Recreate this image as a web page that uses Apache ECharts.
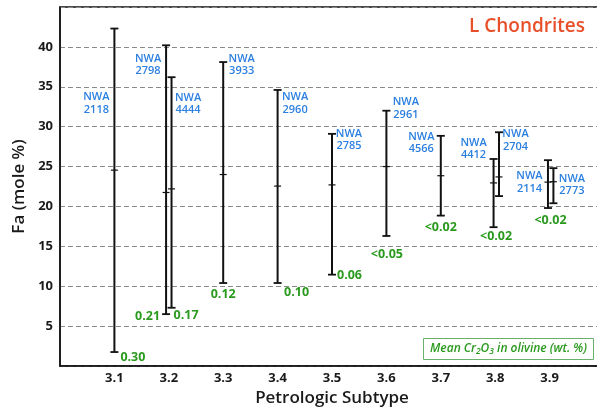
<!DOCTYPE html>
<html>
<head>
<meta charset="utf-8">
<script src="https://cdn.jsdelivr.net/npm/echarts@6/dist/echarts.min.js"></script>
<style>
html,body{margin:0;padding:0;background:#fff;}
#chart{width:597px;height:413px;}
</style>
</head>
<body>
<div id="chart"></div>
<script>
// ---- data ----
const subtypes = [3.1, 3.195, 3.205, 3.3, 3.4, 3.5, 3.6, 3.7, 3.797, 3.807, 3.897, 3.907];
const faLow  = [1.75, 6.5, 7.3, 10.4, 10.4, 11.45, 16.3, 18.85, 17.4, 21.3, 19.8, 20.4];
const faMean = [24.55, 21.75, 22.2, 24.0, 22.55, 22.7, 25.0, 23.85, 22.95, 23.7, 23.05, 23.1];
const faHigh = [42.3, 40.2, 36.2, 38.1, 34.6, 29.1, 32.0, 28.85, 25.95, 29.3, 25.8, 24.8];
const meteorites = ['2118', '2798', '4444', '3933', '2960', '2785', '2961', '4566', '4412', '2704', '2114', '2773'];
const cr2o3 = ['0.30', '0.21', '0.17', '0.12', '0.10', '0.06', '<0.05', '<0.02', '<0.02', '', '<0.02', ''];
const yTicks = [5, 10, 15, 20, 25, 30, 35, 40];
const xTicks = ['3.1', '3.2', '3.3', '3.4', '3.5', '3.6', '3.7', '3.8', '3.9'];

// ---- label layout (pixel offsets, style only) ----
const nameOffset = [[-18, 75], [-18, 19.5], [16.5, 26.5], [18.5, 3], [17.5, 13.5], [17, 6], [19.5, -2.5], [-19.5, 7], [-20, -10], [16.5, 8], [-18.5, 22], [18.5, 16.5]];
const crOffset = [[18.5, 5], [-18.5, 2.7], [14.5, 7.3], [0, 11.7], [19, 9.7], [17.5, 1], [0.5, 18.6], [0, 11.4], [2.5, 9.3], [0, 0], [2.5, 12.3], [0, 0]];

const FONT = '"Open Sans", "Noto Sans", sans-serif';
const BLUE = '#2b7fe0';
const GREEN = '#2a9a1e';

const data = subtypes.map((x, i) => [x, faLow[i], faMean[i], faHigh[i], i]);

const chart = echarts.init(document.getElementById('chart'), null, {renderer: 'canvas'});
chart.setOption({
  animation: false,
  backgroundColor: '#fff',
  grid: {left: 60, top: 7, right: -7, bottom: 47, show: true, borderColor: '#111', borderWidth: 1.5, backgroundColor: 'transparent', containLabel: false, outerBoundsMode: 'none'},
  xAxis: {
    type: 'value', min: 3.0, max: 4.0, interval: 0.1,
    name: 'Petrologic Subtype', nameLocation: 'middle', nameGap: 24,
    nameTextStyle: {fontFamily: FONT, fontSize: 17, fontWeight: 600, color: '#1a1a1a'},
    axisLine: {show: true, lineStyle: {color: '#111', width: 1.5}},
    axisTick: {show: false},
    splitLine: {show: false},
    axisLabel: {
      fontFamily: FONT, fontSize: 13, fontWeight: 700, color: '#1a1a1a', margin: 6,
      formatter: v => { const s = (Math.round(v * 10) / 10).toFixed(1); return xTicks.indexOf(s) >= 0 ? s : ''; }
    }
  },
  yAxis: {
    type: 'value', min: 0, max: 45, interval: 5,
    name: 'Fa (mole %)', nameLocation: 'middle', nameGap: 31,
    nameTextStyle: {fontFamily: FONT, fontSize: 17, fontWeight: 600, color: '#1a1a1a'},
    axisLine: {show: true, lineStyle: {color: '#111', width: 1.5}},
    axisTick: {show: false},
    splitLine: {show: true, lineStyle: {color: '#8a8a8a', width: 1, type: [5, 3]}},
    axisLabel: {
      fontFamily: FONT, fontSize: 13, fontWeight: 700, color: '#1a1a1a', margin: 7,
      formatter: v => yTicks.indexOf(Math.round(v)) >= 0 ? String(Math.round(v)) : ''
    }
  },
  graphic: [
    {type: 'text', right: 12, top: 17, style: {text: 'L Chondrites', fontFamily: FONT, fontSize: 19, fontWeight: 600, fill: '#e8502a'}},
    {type: 'group', left: 423, top: 338, children: [
      {type: 'rect', shape: {x: 0, y: 0, width: 170, height: 21}, style: {fill: '#fff', stroke: '#6ab06a', lineWidth: 1}},
      {type: 'text', x: 85, y: 10.5, style: {
        text: '{t|Mean Cr}{s|2}{t|O}{s|3}{t| in olivine (wt. %)}',
        align: 'center', verticalAlign: 'middle',
        rich: {
          t: {fontFamily: FONT, fontSize: 12, fontWeight: 600, fontStyle: 'italic', fill: GREEN, color: GREEN},
          s: {fontFamily: FONT, fontSize: 8.5, fontWeight: 600, fontStyle: 'italic', fill: GREEN, color: GREEN, verticalAlign: 'bottom', padding: [6, 0, 0, 0]}
        }
      }}
    ]}
  ],
  series: [{
    type: 'custom',
    data: data,
    encode: {x: 0, y: [1, 2, 3]},
    clip: false,
    renderItem: function (params, api) {
      const i = api.value(4);
      const lo = api.coord([api.value(0), api.value(1)]);
      const mid = api.coord([api.value(0), api.value(2)]);
      const hi = api.coord([api.value(0), api.value(3)]);
      const x = lo[0];
      const capW = 4;
      const stroke = {stroke: '#111', lineWidth: 2};
      const children = [
        {type: 'line', shape: {x1: x, y1: hi[1], x2: x, y2: lo[1]}, style: stroke},
        {type: 'line', shape: {x1: x - capW, y1: hi[1], x2: x + capW, y2: hi[1]}, style: {stroke: '#111', lineWidth: 1.8}},
        {type: 'line', shape: {x1: x - capW, y1: lo[1], x2: x + capW, y2: lo[1]}, style: {stroke: '#111', lineWidth: 1.8}},
        {type: 'line', shape: {x1: x - 3.5, y1: mid[1], x2: x + 3.5, y2: mid[1]}, style: {stroke: '#111', lineWidth: 1.2}},
        {type: 'text', x: x + nameOffset[i][0], y: hi[1] + nameOffset[i][1], style: {
          text: 'NWA\n' + meteorites[i], fontFamily: FONT, fontSize: 11, fontWeight: 600, fill: BLUE,
          align: 'center', verticalAlign: 'middle', lineHeight: 12.5
        }}
      ];
      if (cr2o3[i]) {
        children.push({type: 'text', x: x + crOffset[i][0], y: lo[1] + crOffset[i][1], style: {
          text: cr2o3[i], fontFamily: FONT, fontSize: 12.5, fontWeight: 700, fill: GREEN,
          align: 'center', verticalAlign: 'middle'
        }});
      }
      return {type: 'group', children: children};
    }
  }]
});
</script>
</body>
</html>
